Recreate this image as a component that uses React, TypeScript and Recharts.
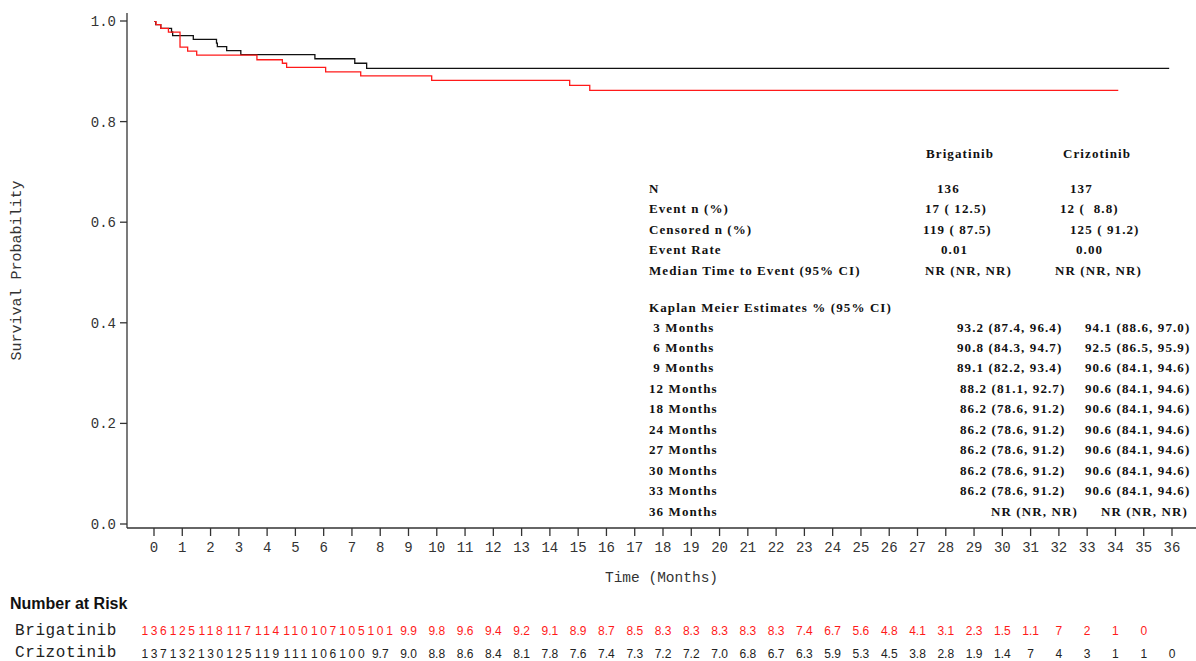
import React from 'react';
import { LineChart, Line, XAxis, YAxis } from 'recharts';

// ---------- data ----------
const monthTicks = [0, 1, 2, 3, 4, 5, 6, 7, 8, 9, 10, 11, 12, 13, 14, 15, 16, 17, 18, 19, 20, 21, 22, 23, 24, 25, 26, 27, 28, 29, 30, 31, 32, 33, 34, 35, 36];
const survTicks = [0, 0.2, 0.4, 0.6, 0.8, 1.0];

const brigTime = [0, 0.07, 0.24, 0.51, 0.92, 1.19, 1.51, 3.64, 4.54, 4.69, 6.07, 7.31, 9.82, 14.7, 15.41, 34.1];
const brigSurv = [1.0, 0.9926, 0.9853, 0.978, 0.948, 0.94, 0.932, 0.923, 0.916, 0.908, 0.899, 0.891, 0.882, 0.872, 0.862, 0.862];

const crizTime = [0, 0.06, 0.24, 0.62, 0.66, 1.39, 2.21, 2.24, 2.57, 3.07, 5.69, 7.1, 7.52, 35.9];
const crizSurv = [1.0, 0.9927, 0.9854, 0.9781, 0.9708, 0.9635, 0.9562, 0.9489, 0.941, 0.933, 0.925, 0.916, 0.906, 0.906];

const brigRisk = ['136', '125', '118', '117', '114', '110', '107', '105', '101', '9.9', '9.8', '9.6', '9.4', '9.2', '9.1', '8.9', '8.7', '8.5', '8.3', '8.3', '8.3', '8.3', '8.3', '7.4', '6.7', '5.6', '4.8', '4.1', '3.1', '2.3', '1.5', '1.1', '7', '2', '1', '0'];
const crizRisk = ['137', '132', '130', '125', '119', '111', '106', '100', '9.7', '9.0', '8.8', '8.6', '8.4', '8.1', '7.8', '7.6', '7.4', '7.3', '7.2', '7.2', '7.0', '6.8', '6.7', '6.3', '5.9', '5.3', '4.5', '3.8', '2.8', '1.9', '1.4', '7', '4', '3', '1', '1', '0'];

const groupNames = ['Brigatinib', 'Crizotinib'];
const summaryLabels = ['N', 'Event n (%)', 'Censored n (%)', 'Event Rate', 'Median Time to Event (95% CI)'];
const brigSummary = ['136', '17 ( 12.5)', '119 ( 87.5)', '0.01', 'NR (NR, NR)'];
const crizSummary = ['137', '12 (  8.8)', '125 ( 91.2)', '0.00', 'NR (NR, NR)'];

const kmTitle = 'Kaplan Meier Estimates % (95% CI)';
const kmLabels = [' 3 Months', ' 6 Months', ' 9 Months', '12 Months', '18 Months', '24 Months', '27 Months', '30 Months', '33 Months', '36 Months'];
const brigKM = ['93.2 (87.4, 96.4)', '90.8 (84.3, 94.7)', '89.1 (82.2, 93.4)', '88.2 (81.1, 92.7)', '86.2 (78.6, 91.2)', '86.2 (78.6, 91.2)', '86.2 (78.6, 91.2)', '86.2 (78.6, 91.2)', '86.2 (78.6, 91.2)', 'NR (NR, NR)'];
const crizKM = ['94.1 (88.6, 97.0)', '92.5 (86.5, 95.9)', '90.6 (84.1, 94.6)', '90.6 (84.1, 94.6)', '90.6 (84.1, 94.6)', '90.6 (84.1, 94.6)', '90.6 (84.1, 94.6)', '90.6 (84.1, 94.6)', '90.6 (84.1, 94.6)', 'NR (NR, NR)'];

const brigData = brigTime.map((t, i) => ({ t, s: brigSurv[i] }));
const crizData = crizTime.map((t, i) => ({ t, s: crizSurv[i] }));

// ---------- layout / style ----------
const W = 1196;
const H = 661;
const MONO = "'Liberation Mono', 'Courier New', monospace";
const SERIF = "'Liberation Serif', 'Times New Roman', serif";
const SANS = "'Liberation Sans', Arial, sans-serif";
const AXIS = '#333';
const RED = '#ff1a1a';

const summaryY = [188, 208, 229, 249, 270];
const brigSummaryX = [937, 925, 923, 941, 925];
const crizSummaryX = [1070, 1060, 1070, 1076, 1055];
const kmY = [327, 347, 367, 388, 408, 429, 449, 470, 490, 511];
const brigKMX = [957, 957, 957, 960, 960, 960, 960, 960, 960, 991];
const crizKMX = [1085, 1085, 1085, 1085, 1085, 1085, 1085, 1085, 1085, 1101];

const RiskTick = (props: any) => {
  const { x, y, payload, values, color } = props;
  const v = values[payload.value];
  if (v === undefined) return null;
  const wide = v.length >= 3 && v.indexOf('.') < 0;
  return (
    <text
      x={x + (wide ? 1.3 : 0)}
      y={y}
      dy="0.71em"
      textAnchor="middle"
      fill={color}
      fontSize={12}
      fontFamily={SANS}
      letterSpacing={wide ? 2.6 : 0}
    >
      {v}
    </text>
  );
};

const YLabel = (props: any) => {
  const vb = props.viewBox || { x: 0, y: 13, width: 127, height: 515 };
  const cx = vb.x + 17;
  const cy = vb.y + vb.height / 2;
  return (
    <text
      x={cx}
      y={cy}
      transform={`rotate(-90, ${cx}, ${cy})`}
      textAnchor="middle"
      dominantBaseline="central"
      fontFamily={MONO}
      fontSize={15}
      fill={AXIS}
    >
      Survival Probability
    </text>
  );
};

const tableText = (x: number, y: number, s: string, key: string) => (
  <text
    key={key}
    x={x}
    y={y + 4.5}
    fontFamily={SERIF}
    fontWeight="bold"
    fontSize={13}
    letterSpacing={1.1}
    fill="#111"
    style={{ whiteSpace: 'pre' }}
  >
    {s}
  </text>
);

export default function App() {
  return (
    <div style={{ position: 'absolute', left: 0, top: 0, width: W, height: H, background: '#fff' }}>
      <LineChart width={W} height={H} margin={{ top: 13, right: 0, bottom: 0, left: 0 }}>
        <XAxis
          xAxisId="main"
          type="number"
          dataKey="t"
          domain={[0, 36]}
          ticks={monthTicks}
          interval={0}
          allowDataOverflow
          padding={{ left: 27, right: 24 }}
          height={90}
          tickSize={8}
          tickMargin={6}
          axisLine={{ stroke: AXIS, strokeWidth: 1.3 }}
          tickLine={{ stroke: AXIS, strokeWidth: 1.3 }}
          tick={{ fontFamily: MONO, fontSize: 14, fill: AXIS }}
          label={{ value: 'Time (Months)', position: 'insideTop', offset: 44, fontFamily: MONO, fontSize: 14.5, fill: AXIS }}
        />
        <XAxis
          xAxisId="risk1"
          type="number"
          dataKey="t"
          domain={[0, 36]}
          ticks={monthTicks}
          interval={0}
          allowDataOverflow
          padding={{ left: 27, right: 24 }}
          height={23}
          tickSize={0}
          tickMargin={8}
          axisLine={false}
          tickLine={false}
          tick={<RiskTick values={brigRisk} color={RED} />}
        />
        <XAxis
          xAxisId="risk2"
          type="number"
          dataKey="t"
          domain={[0, 36]}
          ticks={monthTicks}
          interval={0}
          allowDataOverflow
          padding={{ left: 27, right: 24 }}
          height={20}
          tickSize={0}
          tickMargin={8}
          axisLine={false}
          tickLine={false}
          tick={<RiskTick values={crizRisk} color="#222" />}
        />
        <XAxis
          xAxisId="top"
          orientation="top"
          type="number"
          dataKey="t"
          domain={[0, 36]}
          height={0}
          tick={false}
          tickLine={false}
          axisLine={{ stroke: AXIS, strokeWidth: 1.3 }}
        />
        <YAxis
          type="number"
          domain={[0, 1]}
          ticks={survTicks}
          interval={0}
          allowDataOverflow
          padding={{ top: 8, bottom: 4 }}
          width={127}
          tickSize={7}
          tickMargin={4}
          axisLine={{ stroke: AXIS, strokeWidth: 1.3 }}
          tickLine={{ stroke: AXIS, strokeWidth: 1.3 }}
          tick={{ fontFamily: MONO, fontSize: 14, fill: AXIS }}
          tickFormatter={(v: number) => v.toFixed(1)}
          label={<YLabel />}
        />
        <Line
          xAxisId="main"
          data={crizData}
          dataKey="s"
          type="stepAfter"
          stroke="#111"
          strokeWidth={1.3}
          dot={false}
          isAnimationActive={false}
        />
        <Line
          xAxisId="main"
          data={brigData}
          dataKey="s"
          type="stepAfter"
          stroke={RED}
          strokeWidth={1.3}
          dot={false}
          isAnimationActive={false}
        />
        {/* invisible carriers so that the at-risk axes get their scales */}
        <Line xAxisId="risk1" data={brigData} dataKey="s" stroke="none" strokeWidth={0} dot={false} activeDot={false} isAnimationActive={false} />
        <Line xAxisId="risk2" data={crizData} dataKey="s" stroke="none" strokeWidth={0} dot={false} activeDot={false} isAnimationActive={false} />
        <Line xAxisId="top" data={crizData} dataKey="s" stroke="none" strokeWidth={0} dot={false} activeDot={false} isAnimationActive={false} />
      </LineChart>
      <svg width={W} height={H} style={{ position: 'absolute', left: 0, top: 0, pointerEvents: 'none' }}>
        <text x={10} y={609} fontFamily={SANS} fontWeight="bold" fontSize={16} fill="#111">Number at Risk</text>
        <text x={15} y={635} fontFamily={MONO} fontSize={16} letterSpacing={0.6} fill="#222">{groupNames[0]}</text>
        <text x={15} y={657} fontFamily={MONO} fontSize={16} letterSpacing={0.6} fill="#222">{groupNames[1]}</text>
        {tableText(926, 153, groupNames[0], 'h0')}
        {tableText(1063, 153, groupNames[1], 'h1')}
        {summaryLabels.map((s, i) => tableText(649, summaryY[i], s, 'sl' + i))}
        {brigSummary.map((s, i) => tableText(brigSummaryX[i], summaryY[i], s, 'sb' + i))}
        {crizSummary.map((s, i) => tableText(crizSummaryX[i], summaryY[i], s, 'sc' + i))}
        {tableText(649, 307, kmTitle, 'kt')}
        {kmLabels.map((s, i) => tableText(649, kmY[i], s, 'kl' + i))}
        {brigKM.map((s, i) => tableText(brigKMX[i], kmY[i], s, 'kb' + i))}
        {crizKM.map((s, i) => tableText(crizKMX[i], kmY[i], s, 'kc' + i))}
      </svg>
    </div>
  );
}
